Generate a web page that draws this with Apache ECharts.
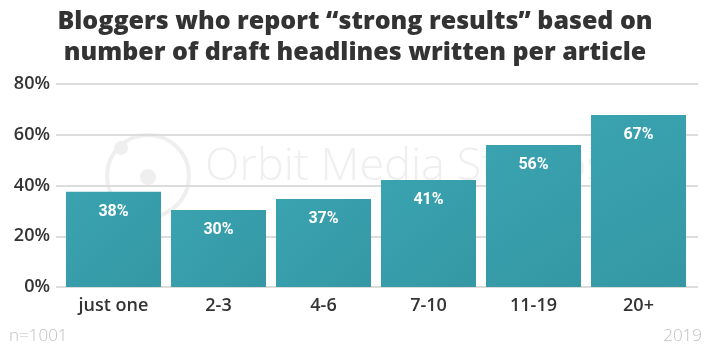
<!DOCTYPE html>
<html>
<head>
<meta charset="utf-8">
<script src="https://cdn.jsdelivr.net/npm/echarts@6/dist/echarts.min.js"></script>
<style>
html,body{margin:0;padding:0;background:#fff;}
#chart{width:710px;height:355px;}
</style>
</head>
<body>
<div id="chart"></div>
<script>
var categories = ['just one', '2-3', '4-6', '7-10', '11-19', '20+'];
var values = [37.5, 30.3, 34.7, 42.2, 56.0, 67.8];
var valueLabels = ['38%', '30%', '37%', '41%', '56%', '67%'];
var yTicks = [0, 20, 40, 60, 80];
var titleLines = ['Bloggers who report \u201cstrong results\u201d based on', 'number of draft headlines written per article'];

var chart = echarts.init(document.getElementById('chart'));
var gridTop = 84, gridBottom = 68;
var option = {
  backgroundColor: '#ffffff',
  animation: false,
  title: {
    text: titleLines.join('\n'),
    left: 'center',
    top: 1,
    textStyle: {
      fontFamily: 'Open Sans',
      fontWeight: 800,
      fontSize: 25,
      lineHeight: 31,
      color: '#333333'
    }
  },
  graphic: [
    { type: 'circle', z: 0, shape: { cx: 148, cy: 176, r: 41 }, style: { fill: 'none', stroke: '#efefef', lineWidth: 4 } },
    { type: 'circle', z: 0, shape: { cx: 121, cy: 148, r: 7 }, style: { fill: '#efefef' } },
    { type: 'circle', z: 0, shape: { cx: 148, cy: 177, r: 8 }, style: { fill: '#efefef' } },
    { type: 'text', z: 0, left: 205, top: 145, style: { text: 'Orbit Media Studios', font: '300 45px "Open Sans"', fill: '#efefef' } },
    { type: 'text', left: 9, top: 328, style: { text: 'n=1001', font: '300 17px "Open Sans"', fill: '#c0c0c0' } },
    { type: 'text', right: 8, top: 328, style: { text: '2019', font: '300 17px "Open Sans"', fill: '#c0c0c0' } }
  ],
  grid: [
    { left: 56, right: 12, top: gridTop, bottom: gridBottom },
    { left: 61, right: 19, top: gridTop, bottom: gridBottom }
  ],
  xAxis: [
    { gridIndex: 0, type: 'value', show: false, min: 0, max: 1 },
    {
      gridIndex: 1, type: 'category', data: categories,
      axisLine: { show: false }, axisTick: { show: false },
      axisLabel: { margin: 10, fontFamily: 'Open Sans', fontWeight: 600, fontSize: 18, color: '#333333' }
    }
  ],
  yAxis: [
    {
      gridIndex: 0, type: 'value', min: yTicks[0], max: yTicks[yTicks.length - 1], interval: 20,
      axisLine: { show: false }, axisTick: { show: false },
      axisLabel: { formatter: '{value}%', margin: 6, fontFamily: 'Open Sans', fontWeight: 600, fontSize: 18, color: '#333333' },
      splitLine: { lineStyle: { color: '#dcdcdc', width: 2 } }
    },
    { gridIndex: 1, type: 'value', min: 0, max: 80, show: false, splitLine: { show: false } }
  ],
  series: [{
    type: 'bar',
    xAxisIndex: 1,
    yAxisIndex: 1,
    data: values,
    barCategoryGap: '9.5%',
    itemStyle: {
      color: new echarts.graphic.LinearGradient(0, 0, 1, 1, [
        { offset: 0, color: '#3aa3b0' },
        { offset: 1, color: '#3597a4' }
      ])
    },
    label: {
      show: true,
      position: 'insideTop',
      distance: 12,
      formatter: function (p) { return valueLabels[p.dataIndex]; },
      fontFamily: 'Roboto',
      fontWeight: 'bold',
      fontSize: 16,
      color: '#ffffff'
    }
  }]
};
chart.setOption(option);
</script>
</body>
</html>
